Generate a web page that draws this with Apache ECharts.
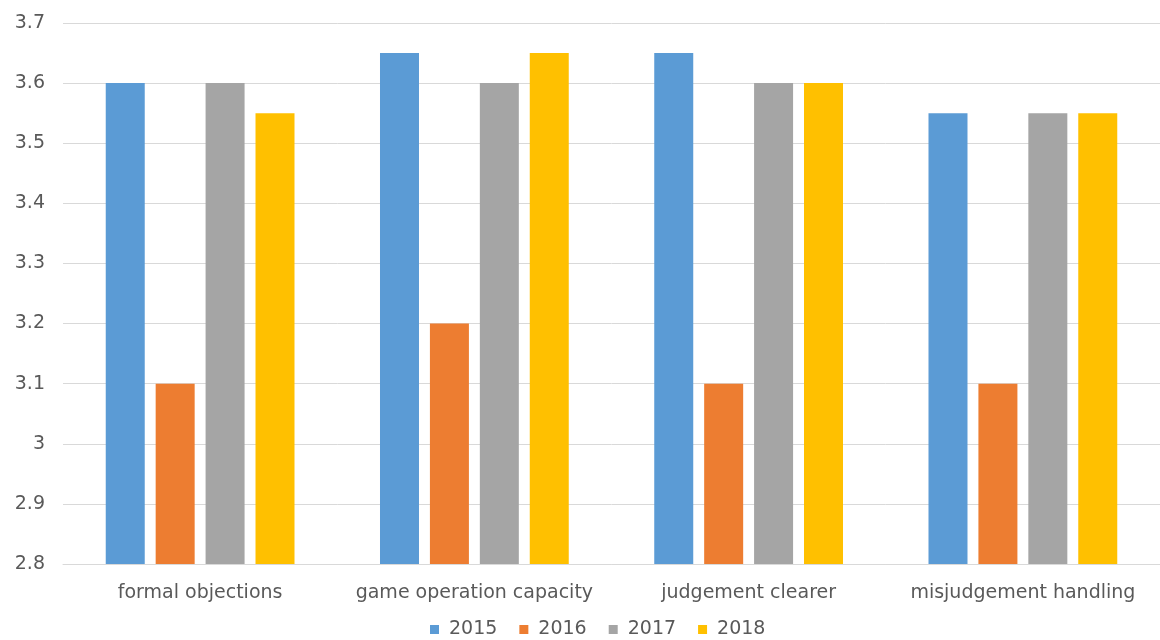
<!DOCTYPE html>
<html><head><meta charset="utf-8">
<script src="https://cdn.jsdelivr.net/npm/echarts@6/dist/echarts.min.js"></script>
<style>html,body{margin:0;padding:0;background:#fff}#c{width:1160px;height:640px}</style>
</head><body><div id="c"></div>
<script>
const categories = ['formal objections','game operation capacity','judgement clearer','misjudgement handling'];
const seriesNames = ['2015','2016','2017','2018'];
const v2015 = [3.6, 3.65, 3.65, 3.55];
const v2016 = [3.1, 3.2, 3.1, 3.1];
const v2017 = [3.6, 3.6, 3.6, 3.55];
const v2018 = [3.55, 3.65, 3.6, 3.55];
const colors = ['#5B9BD5','#ED7D31','#A5A5A5','#FFC000'];
const values = [v2015, v2016, v2017, v2018];
const font = '"DejaVu Sans", sans-serif';
const chart = echarts.init(document.getElementById('c'));
chart.setOption({
  animation:false,
  color: colors,
  textStyle:{fontFamily:font},
  grid:{left:63, right:0, top:23, bottom:76, containLabel:false},
  legend:{top:615, left:425, itemWidth:9, itemHeight:9, itemGap:22, icon:'rect',
    textStyle:{fontSize:19, color:'#595959', fontFamily:font, padding:[0,0,0,5]}, data:seriesNames},
  xAxis:{type:'category', data:categories,
    axisLine:{lineStyle:{color:'#D9D9D9'}}, axisTick:{show:false},
    axisLabel:{fontSize:19, color:'#595959', margin:20, fontFamily:font, interval:0}},
  yAxis:{type:'value', min:2.8, max:3.7, interval:0.1,
    axisLine:{show:false}, axisTick:{show:false},
    splitLine:{lineStyle:{color:'#D9D9D9'}},
    axisLabel:{fontSize:19, color:'#595959', margin:18, fontFamily:font,
      formatter: v => String(Math.round(v*10)/10)}},
  series: seriesNames.map((n,i)=>({name:n, type:'bar', data:values[i], barWidth:39, barGap:'28%'}))
});
</script></body></html>
